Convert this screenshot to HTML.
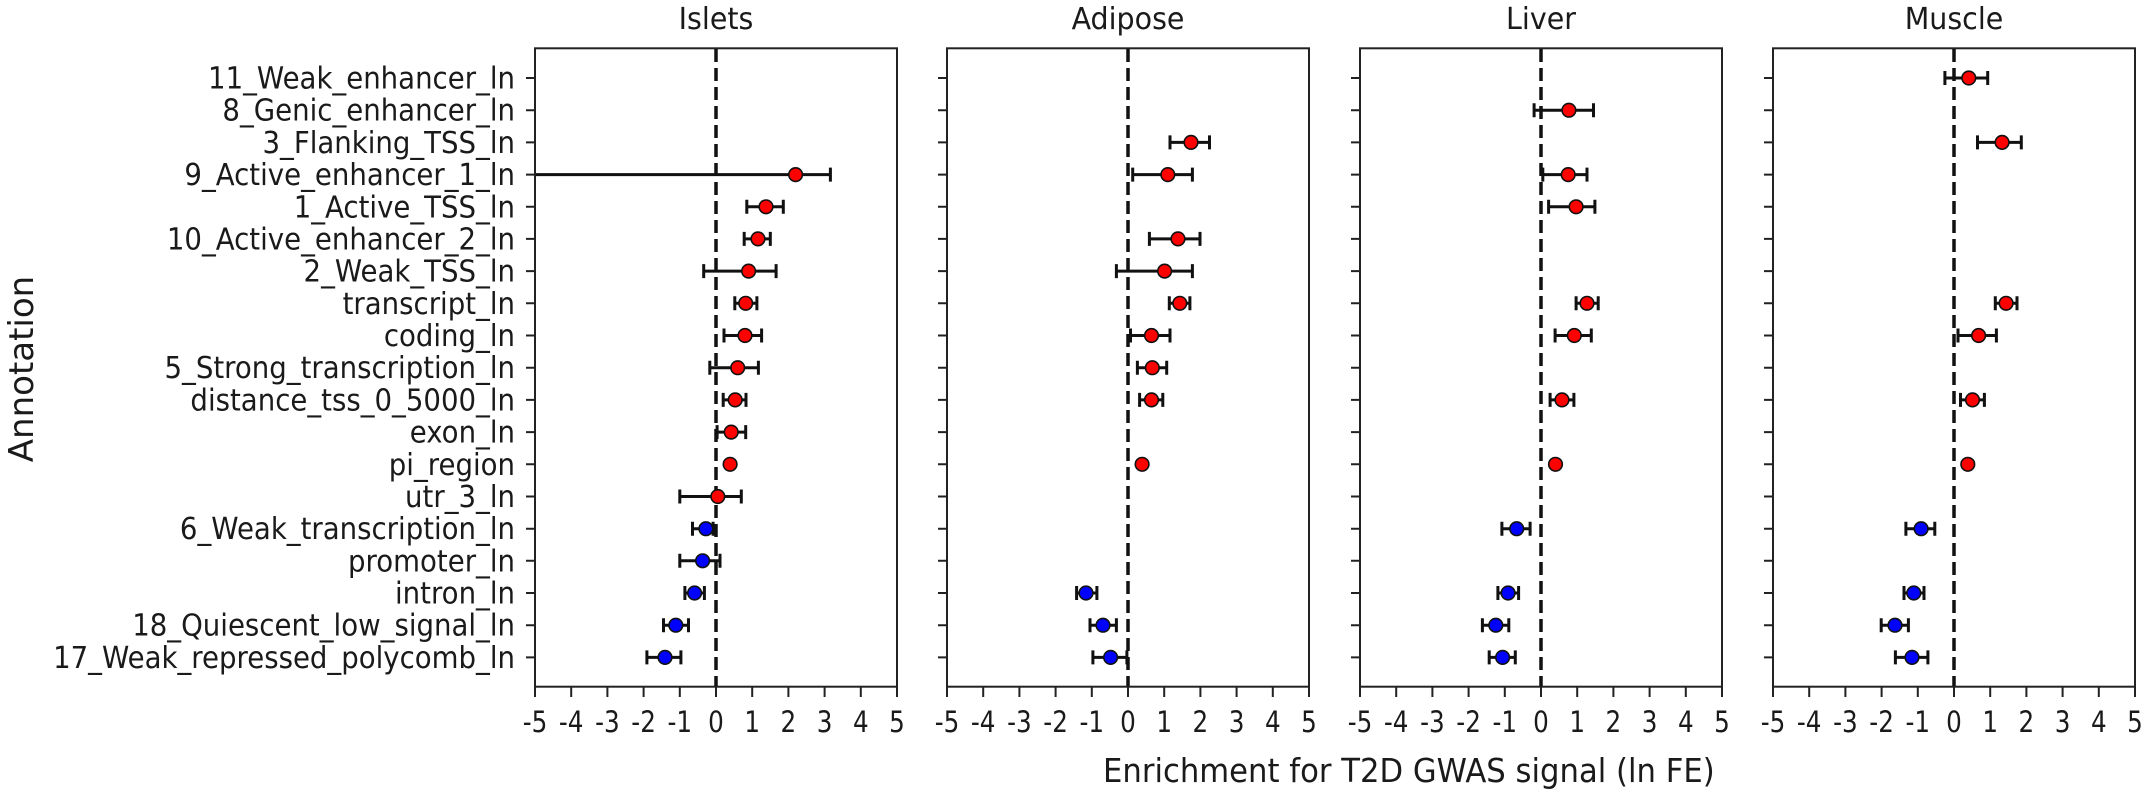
<!DOCTYPE html>
<html>
<head>
<meta charset="utf-8">
<style>
html,body{margin:0;padding:0;background:#fff;}
svg{display:block;}
text{font-family:"DejaVu Sans","Liberation Sans",sans-serif;fill:#1a1a1a;}
</style>
</head>
<body>
<svg width="2151" height="794" viewBox="0 0 2151 794" xmlns="http://www.w3.org/2000/svg">
<defs>
<path id="yt" d="M-9 78H0M-9 110.2H0M-9 142.4H0M-9 174.6H0M-9 206.8H0M-9 238.9H0M-9 271.1H0M-9 303.3H0M-9 335.5H0M-9 367.7H0M-9 399.9H0M-9 432.1H0M-9 464.3H0M-9 496.5H0M-9 528.7H0M-9 560.8H0M-9 593H0M-9 625.2H0M-9 657.4H0" stroke="#222" stroke-width="2" fill="none"/>
<path id="xt" d="M0 686.7V697M36.2 686.7V697M72.4 686.7V697M108.6 686.7V697M144.8 686.7V697M181 686.7V697M217.2 686.7V697M253.4 686.7V697M289.6 686.7V697M325.8 686.7V697M362 686.7V697" stroke="#222" stroke-width="2" fill="none"/>
<g id="xl" font-size="29" text-anchor="middle">
<text x="0" y="0">-5</text><text x="42.59" y="0">-4</text><text x="85.18" y="0">-3</text><text x="127.76" y="0">-2</text><text x="170.35" y="0">-1</text><text x="212.94" y="0">0</text><text x="255.53" y="0">1</text><text x="298.12" y="0">2</text><text x="340.71" y="0">3</text><text x="383.29" y="0">4</text><text x="425.88" y="0">5</text>
</g>
</defs>

<!-- Titles -->
<g font-size="30" text-anchor="middle">
<text transform="translate(716,29) scale(0.95,1)">Islets</text>
<text transform="translate(1128,29) scale(0.95,1)">Adipose</text>
<text transform="translate(1541,29) scale(0.95,1)">Liver</text>
<text transform="translate(1954,29) scale(0.95,1)">Muscle</text>
</g>

<!-- Y axis label -->
<text transform="translate(33,369) rotate(-90)" font-size="34" text-anchor="middle">Annotation</text>

<!-- X axis label -->
<text transform="translate(1103,782) scale(0.93,1)" font-size="33">Enrichment for T2D GWAS signal (ln FE)</text>

<!-- Y tick labels -->
<g transform="translate(515,0) scale(0.92,1)" font-size="30" text-anchor="end">
<text x="0" y="88.5">11_Weak_enhancer_ln</text>
<text x="0" y="120.7">8_Genic_enhancer_ln</text>
<text x="0" y="152.9">3_Flanking_TSS_ln</text>
<text x="0" y="185.1">9_Active_enhancer_1_ln</text>
<text x="0" y="217.3">1_Active_TSS_ln</text>
<text x="0" y="249.4">10_Active_enhancer_2_ln</text>
<text x="0" y="281.6">2_Weak_TSS_ln</text>
<text x="0" y="313.8">transcript_ln</text>
<text x="0" y="346">coding_ln</text>
<text x="0" y="378.2">5_Strong_transcription_ln</text>
<text x="0" y="410.4">distance_tss_0_5000_ln</text>
<text x="0" y="442.6">exon_ln</text>
<text x="0" y="474.8">pi_region</text>
<text x="0" y="507">utr_3_ln</text>
<text x="0" y="539.2">6_Weak_transcription_ln</text>
<text x="0" y="571.3">promoter_ln</text>
<text x="0" y="603.5">intron_ln</text>
<text x="0" y="635.7">18_Quiescent_low_signal_ln</text>
<text x="0" y="667.9">17_Weak_repressed_polycomb_ln</text>
</g>

<!-- Axes frames, ticks, tick labels, zero lines -->
<g fill="none" stroke="#222" stroke-width="2">
<rect x="535" y="48.3" width="362" height="638.4"/>
<rect x="947" y="48.3" width="362" height="638.4"/>
<rect x="1360" y="48.3" width="362" height="638.4"/>
<rect x="1773" y="48.3" width="362" height="638.4"/>
</g>
<use href="#yt" transform="translate(535,0)"/>
<use href="#yt" transform="translate(947,0)"/>
<use href="#yt" transform="translate(1360,0)"/>
<use href="#yt" transform="translate(1773,0)"/>
<use href="#xt" transform="translate(535,0)"/>
<use href="#xt" transform="translate(947,0)"/>
<use href="#xt" transform="translate(1360,0)"/>
<use href="#xt" transform="translate(1773,0)"/>
<use href="#xl" transform="translate(535,732) scale(0.85,1)"/>
<use href="#xl" transform="translate(947,732) scale(0.85,1)"/>
<use href="#xl" transform="translate(1360,732) scale(0.85,1)"/>
<use href="#xl" transform="translate(1773,732) scale(0.85,1)"/>

<g stroke="#111" stroke-width="3.5" stroke-dasharray="13 6" fill="none">
<path d="M716 49V686"/>
<path d="M1128 49V686"/>
<path d="M1541 49V686"/>
<path d="M1954 49V686"/>
</g>

<!-- Error bars -->
<g stroke="#111" stroke-width="3" fill="none">
<!-- Islets -->
<path transform="translate(0,174.6)" d="M536 0H830.4M830.4 -7V7"/>
<path transform="translate(0,206.8)" d="M746.8 0H783.3M746.8 -7V7M783.3 -7V7"/>
<path transform="translate(0,238.9)" d="M744.2 0H770.3M744.2 -7V7M770.3 -7V7"/>
<path transform="translate(0,271.1)" d="M703.7 0H776.1M703.7 -7V7M776.1 -7V7"/>
<path transform="translate(0,303.3)" d="M734.8 0H756.9M734.8 -7V7M756.9 -7V7"/>
<path transform="translate(0,335.5)" d="M724 0H761.6M724 -7V7M761.6 -7V7"/>
<path transform="translate(0,367.7)" d="M709.8 0H758.4M709.8 -7V7M758.4 -7V7"/>
<path transform="translate(0,399.9)" d="M723.2 0H746M723.2 -7V7M746 -7V7"/>
<path transform="translate(0,432.1)" d="M717.1 0H745.7M717.1 -7V7M745.7 -7V7"/>
<path transform="translate(0,496.5)" d="M679.8 0H741.3M679.8 -7V7M741.3 -7V7"/>
<path transform="translate(0,528.7)" d="M692.5 0H713.1M692.5 -7V7M713.1 -7V7"/>
<path transform="translate(0,560.8)" d="M679.8 0H720M679.8 -7V7M720 -7V7"/>
<path transform="translate(0,593)" d="M684.9 0H704.4M684.9 -7V7M704.4 -7V7"/>
<path transform="translate(0,625.2)" d="M663.5 0H688.5M663.5 -7V7M688.5 -7V7"/>
<path transform="translate(0,657.4)" d="M646.9 0H680.9M646.9 -7V7M680.9 -7V7"/>
<!-- Adipose -->
<path transform="translate(0,142.4)" d="M1170 0H1209.5M1170 -7V7M1209.5 -7V7"/>
<path transform="translate(0,174.6)" d="M1132.7 0H1192.4M1132.7 -7V7M1192.4 -7V7"/>
<path transform="translate(0,238.9)" d="M1149.4 0H1200M1149.4 -7V7M1200 -7V7"/>
<path transform="translate(0,271.1)" d="M1116.4 0H1192.4M1116.4 -7V7M1192.4 -7V7"/>
<path transform="translate(0,303.3)" d="M1169.3 0H1189.9M1169.3 -7V7M1189.9 -7V7"/>
<path transform="translate(0,335.5)" d="M1130.5 0H1170M1130.5 -7V7M1170 -7V7"/>
<path transform="translate(0,367.7)" d="M1137.4 0H1166.7M1137.4 -7V7M1166.7 -7V7"/>
<path transform="translate(0,399.9)" d="M1139.6 0H1162.8M1139.6 -7V7M1162.8 -7V7"/>
<path transform="translate(0,593)" d="M1076.6 0H1096.9M1076.6 -7V7M1096.9 -7V7"/>
<path transform="translate(0,625.2)" d="M1090 0H1116.4M1090 -7V7M1116.4 -7V7"/>
<path transform="translate(0,657.4)" d="M1092.9 0H1126.9M1092.9 -7V7M1126.9 -7V7"/>
<!-- Liver -->
<path transform="translate(0,110.2)" d="M1534.1 0H1593.5M1534.1 -7V7M1593.5 -7V7"/>
<path transform="translate(0,174.6)" d="M1542.8 0H1587M1542.8 -7V7M1587 -7V7"/>
<path transform="translate(0,206.8)" d="M1548.6 0H1594.9M1548.6 -7V7M1594.9 -7V7"/>
<path transform="translate(0,303.3)" d="M1576.1 0H1598.2M1576.1 -7V7M1598.2 -7V7"/>
<path transform="translate(0,335.5)" d="M1555.1 0H1591.3M1555.1 -7V7M1591.3 -7V7"/>
<path transform="translate(0,399.9)" d="M1550.1 0H1573.9M1550.1 -7V7M1573.9 -7V7"/>
<path transform="translate(0,528.7)" d="M1501.9 0H1530.1M1501.9 -7V7M1530.1 -7V7"/>
<path transform="translate(0,593)" d="M1497.9 0H1518.6M1497.9 -7V7M1518.6 -7V7"/>
<path transform="translate(0,625.2)" d="M1482.4 0H1508.8M1482.4 -7V7M1508.8 -7V7"/>
<path transform="translate(0,657.4)" d="M1489.2 0H1515.3M1489.2 -7V7M1515.3 -7V7"/>
<!-- Muscle -->
<path transform="translate(0,78)" d="M1944.9 0H1987.7M1944.9 -7V7M1987.7 -7V7"/>
<path transform="translate(0,142.4)" d="M1977.5 0H2021.3M1977.5 -7V7M2021.3 -7V7"/>
<path transform="translate(0,303.3)" d="M1995.3 0H2017M1995.3 -7V7M2017 -7V7"/>
<path transform="translate(0,335.5)" d="M1958 0H1996.4M1958 -7V7M1996.4 -7V7"/>
<path transform="translate(0,399.9)" d="M1960.5 0H1984.4M1960.5 -7V7M1984.4 -7V7"/>
<path transform="translate(0,528.7)" d="M1905.9 0H1934.8M1905.9 -7V7M1934.8 -7V7"/>
<path transform="translate(0,593)" d="M1904 0H1924M1904 -7V7M1924 -7V7"/>
<path transform="translate(0,625.2)" d="M1881.2 0H1908.4M1881.2 -7V7M1908.4 -7V7"/>
<path transform="translate(0,657.4)" d="M1895.4 0H1927.9M1895.4 -7V7M1927.9 -7V7"/>
</g>

<!-- Markers: red -->
<g fill="#ff0000" stroke="#111" stroke-width="1.6">
<circle cx="795.6" cy="174.6" r="6.8"/>
<circle cx="766" cy="206.8" r="6.8"/>
<circle cx="758" cy="238.9" r="6.8"/>
<circle cx="748.6" cy="271.1" r="6.8"/>
<circle cx="745.7" cy="303.3" r="6.8"/>
<circle cx="745" cy="335.5" r="6.8"/>
<circle cx="737.7" cy="367.7" r="6.8"/>
<circle cx="735.2" cy="399.9" r="6.8"/>
<circle cx="731.2" cy="432.1" r="6.8"/>
<circle cx="730.1" cy="464.3" r="6.8"/>
<circle cx="717.8" cy="496.5" r="6.8"/>

<circle cx="1191" cy="142.4" r="6.8"/>
<circle cx="1167.8" cy="174.6" r="6.8"/>
<circle cx="1178" cy="238.9" r="6.8"/>
<circle cx="1164.6" cy="271.1" r="6.8"/>
<circle cx="1179.8" cy="303.3" r="6.8"/>
<circle cx="1151.5" cy="335.5" r="6.8"/>
<circle cx="1152.3" cy="367.7" r="6.8"/>
<circle cx="1151.5" cy="399.9" r="6.8"/>
<circle cx="1142.1" cy="464.3" r="6.8"/>

<circle cx="1568.9" cy="110.2" r="6.8"/>
<circle cx="1568.2" cy="174.6" r="6.8"/>
<circle cx="1576.1" cy="206.8" r="6.8"/>
<circle cx="1587" cy="303.3" r="6.8"/>
<circle cx="1574.3" cy="335.5" r="6.8"/>
<circle cx="1562" cy="399.9" r="6.8"/>
<circle cx="1555.5" cy="464.3" r="6.8"/>

<circle cx="1968.8" cy="78" r="6.8"/>
<circle cx="2002.1" cy="142.4" r="6.8"/>
<circle cx="2006.1" cy="303.3" r="6.8"/>
<circle cx="1978.6" cy="335.5" r="6.8"/>
<circle cx="1972.5" cy="399.9" r="6.8"/>
<circle cx="1967.8" cy="464.3" r="6.8"/>
</g>

<!-- Markers: blue -->
<g fill="#0000ff" stroke="#111" stroke-width="1.6">
<circle cx="705.9" cy="528.7" r="6.8"/>
<circle cx="702.6" cy="560.8" r="6.8"/>
<circle cx="694.6" cy="593" r="6.8"/>
<circle cx="675.8" cy="625.2" r="6.8"/>
<circle cx="665" cy="657.4" r="6.8"/>

<circle cx="1086" cy="593" r="6.8"/>
<circle cx="1103" cy="625.2" r="6.8"/>
<circle cx="1110.6" cy="657.4" r="6.8"/>

<circle cx="1516.7" cy="528.7" r="6.8"/>
<circle cx="1508.1" cy="593" r="6.8"/>
<circle cx="1495.8" cy="625.2" r="6.8"/>
<circle cx="1502.6" cy="657.4" r="6.8"/>

<circle cx="1921.1" cy="528.7" r="6.8"/>
<circle cx="1913.8" cy="593" r="6.8"/>
<circle cx="1895" cy="625.2" r="6.8"/>
<circle cx="1912" cy="657.4" r="6.8"/>
</g>
</svg>
</body>
</html>
